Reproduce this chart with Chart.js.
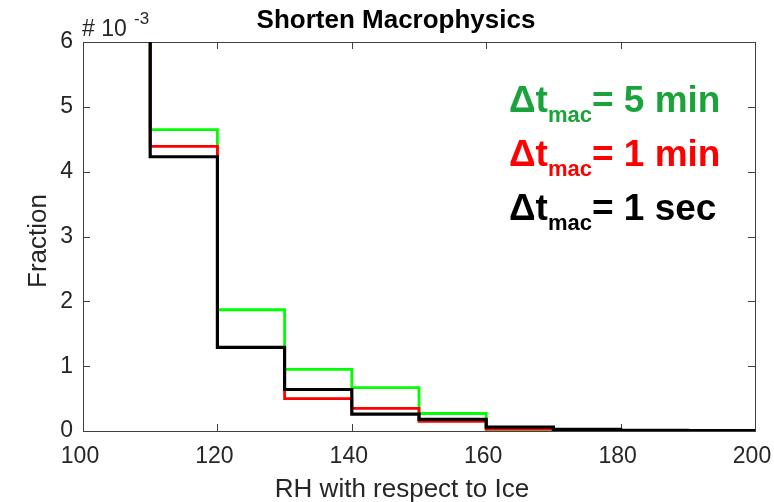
<!DOCTYPE html>
<html>
<head>
<meta charset="utf-8">
<script src="https://cdn.jsdelivr.net/npm/chart.js@4.4.1/dist/chart.umd.min.js"></script>
<style>
  html, body { margin: 0; padding: 0; background: #fff; }
  canvas { display: block; }
</style>
</head>
<body>
<canvas id="rhChart" width="774" height="502"></canvas>
<script>
// histogram bin edges (RH w.r.t. ice, %)
var binEdges = [100, 110, 120, 130, 140, 150, 160, 170, 180, 190, 200];
// fraction per bin, in units of 1e-3 (first bin runs off the top of the axes)
var fiveMin = [8.6, 4.65, 1.87, 0.95, 0.67, 0.27, 0.03, 0.015, 0.006, 0.004];
var oneMin  = [8.4, 4.39, 1.29, 0.50, 0.35, 0.15, 0.03, 0.015, 0.006, 0.004];
var oneSec  = [8.2, 4.23, 1.29, 0.64, 0.26, 0.18, 0.06, 0.025, 0.01, 0.008];
var xTicks = [100, 120, 140, 160, 180, 200];
var yTicks = [0, 1, 2, 3, 4, 5, 6];
var seriesLabels = ["5 min", "1 min", "1 sec"];

var FONT = '"Liberation Sans", Arial, sans-serif';
var AXIS_COLOR = '#404040';
var TEXT_COLOR = '#262626';

// turn per-bin values into stair points (last value held to the final edge)
function stairs(vals) {
    var pts = vals.map(function (v, i) { return { x: binEdges[i], y: v }; });
    pts.push({ x: binEdges[binEdges.length - 1], y: vals[vals.length - 1] });
    return pts;
}

// box around the axes with inward tick marks on all four sides
var boxPlugin = {
    id: 'boxTicks',
    beforeDatasetsDraw: function (chart) {
        var ctx = chart.ctx, a = chart.chartArea;
        var xs = chart.scales.x, ys = chart.scales.y;
        var len = 7;
        ctx.save();
        ctx.strokeStyle = AXIS_COLOR;
        ctx.lineWidth = 1;
        ctx.beginPath();
        xTicks.forEach(function (t) {
            var px = Math.round(xs.getPixelForValue(t)) + 0.5;
            ctx.moveTo(px, a.bottom); ctx.lineTo(px, a.bottom - len);
            ctx.moveTo(px, a.top); ctx.lineTo(px, a.top + len);
        });
        yTicks.forEach(function (t) {
            var py = Math.round(ys.getPixelForValue(t)) + 0.5;
            ctx.moveTo(a.left, py); ctx.lineTo(a.left + len, py);
            ctx.moveTo(a.right, py); ctx.lineTo(a.right - len, py);
        });
        ctx.stroke();
        ctx.strokeRect(Math.round(a.left) + 0.5, Math.round(a.top) + 0.5,
            Math.round(a.right - a.left), Math.round(a.bottom - a.top));
        ctx.restore();
    },
    afterDraw: function (chart) {
        var ctx = chart.ctx;
        ctx.save();
        // title
        ctx.fillStyle = '#000';
        ctx.font = 'bold 26px ' + FONT;
        ctx.textAlign = 'center';
        ctx.textBaseline = 'alphabetic';
        ctx.fillText('Shorten Macrophysics', 396, 28);

        // axis titles
        ctx.fillStyle = TEXT_COLOR;
        ctx.font = '26px ' + FONT;
        ctx.fillText('RH with respect to Ice', 402, 497);
        ctx.save();
        ctx.translate(46, 241);
        ctx.rotate(-Math.PI / 2);
        ctx.fillText('Fraction', 0, 0);
        ctx.restore();

        // exponent label
        ctx.textAlign = 'left';
        ctx.font = '23px ' + FONT;
        ctx.fillText('# 10', 82, 36);
        ctx.font = '17px ' + FONT;
        ctx.fillText('-3', 134, 24);

        // legend text
        var colors = ['#1ba33b', '#ff0000', '#000000'];
        var baselines = [112, 166, 220];
        seriesLabels.forEach(function (lab, i) {
            var x = 509, y = baselines[i];
            ctx.fillStyle = colors[i];
            ctx.font = 'bold 37px ' + FONT;
            ctx.fillText('\u0394t', x, y);
            x += ctx.measureText('\u0394t').width;
            ctx.font = 'bold 22px ' + FONT;
            ctx.fillText('mac', x, y + 10);
            x += ctx.measureText('mac').width;
            ctx.font = 'bold 37px ' + FONT;
            ctx.fillText('= ' + lab, x, y);
        });
        ctx.restore();
    }
};

function line(vals, color, width) {
    return {
        data: stairs(vals),
        borderColor: color,
        borderWidth: width,
        stepped: 'before',
        pointRadius: 0,
        fill: false,
        borderJoinStyle: 'miter'
    };
}

// first dataset ends up on top, so black goes first
new Chart(document.getElementById('rhChart'), {
    type: 'line',
    data: {
        datasets: [
            line(oneSec, '#000000', 3.2),
            line(oneMin, '#ff0000', 2.8),
            line(fiveMin, '#00ff00', 2.8)
        ]
    },
    options: {
        responsive: false,
        animation: false,
        events: [],
        layout: { padding: { top: 42, right: 19, left: 0, bottom: 0 } },
        plugins: { legend: { display: false }, tooltip: { enabled: false }, title: { display: false } },
        scales: {
            x: {
                type: 'linear',
                min: 100, max: 200,
                afterFit: function (s) { s.height = 71; s.paddingLeft = 0; s.paddingRight = 0; },
                afterBuildTicks: function (s) { s.ticks = xTicks.map(function (v) { return { value: v }; }); },
                grid: { display: false, drawTicks: false },
                border: { display: false },
                ticks: { color: TEXT_COLOR, font: { family: FONT, size: 23 }, padding: 12, labelOffset: -3, maxRotation: 0 }
            },
            y: {
                type: 'linear',
                min: 0, max: 6,
                afterFit: function (s) { s.width = 83; s.paddingTop = 0; s.paddingBottom = 0; },
                afterBuildTicks: function (s) { s.ticks = yTicks.map(function (v) { return { value: v }; }); },
                grid: { display: false, drawTicks: false },
                border: { display: false },
                ticks: { color: TEXT_COLOR, font: { family: FONT, size: 23 }, padding: 10 }
            }
        }
    },
    plugins: [boxPlugin]
});
</script>
</body>
</html>
